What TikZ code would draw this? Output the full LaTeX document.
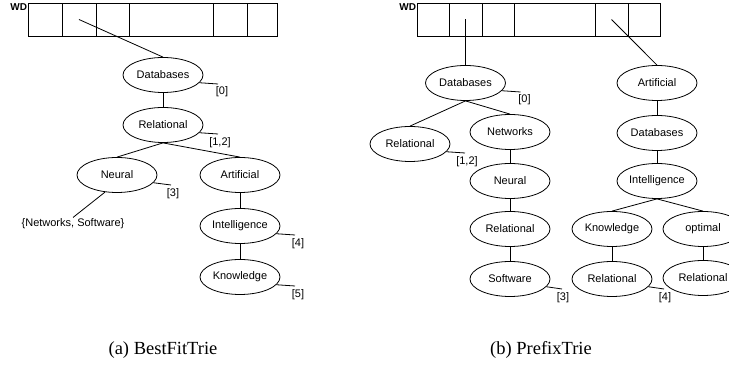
\documentclass[tikz,border=0pt]{standalone}
\usepackage{fontspec}
\setmainfont{Liberation Sans}
\newfontfamily\capfont{Liberation Serif}
\usetikzlibrary{shapes.geometric,calc}
\begin{document}
\begin{tikzpicture}[x=1pt,y=-1pt,
  word/.style={ellipse,draw,minimum width=80pt,minimum height=35pt,inner sep=0pt,font=\fontsize{11}{13}\selectfont},
  cell/.style={draw,rectangle,minimum height=33pt,inner sep=0pt,outer sep=0pt},
  lbl/.style={inner sep=1pt,anchor=north,font=\fontsize{11}{13}\selectfont},
  plain/.style={inner sep=1pt,font=\fontsize{11}{13}\selectfont},
  wd/.style={inner sep=0.5pt,anchor=north east,font=\bfseries\fontsize{10}{12}\selectfont},
  captext/.style={inner sep=0pt,font=\capfont\fontsize{18.5}{21}\selectfont},
  every path/.style={line width=0.8pt}]
\useasboundingbox (0,0) rectangle (729,371);

% ---------- left array ----------
\node[cell,minimum width=34pt] (a1) at (45,19.5) {};
\node[cell,minimum width=34pt] (a2) at (79,19.5) {};
\node[cell,minimum width=33pt] (a3) at (112.5,19.5) {};
\node[cell,minimum width=84pt] (a4) at (171,19.5) {};
\node[cell,minimum width=34pt] (a5) at (230,19.5) {};
\node[cell,minimum width=30pt] (a6) at (262,19.5) {};
\node[wd] (wda) at (a1.north west) {WD};

% ---------- left tree ----------
\node[word] (ldb) at (163,75) {Databases};
\node[word] (lrel) at (163,125) {Relational};
\node[word] (lneu) at (117,175) {Neural};
\node[word] (lart) at (240,175) {Artificial};
\node[word] (lint) at (240,226) {Intelligence};
\node[word] (lkno) at (240,277) {Knowledge};
\node[plain] (lset) at (73,224) {\{Networks, Software\}};

\draw (a2.center) -- (ldb.north);
\draw (ldb) -- (lrel);
\draw (lrel.south) -- (lneu.north);
\draw (lrel.south) -- (lart.north);
\draw (lart) -- (lint);
\draw (lint) -- (lkno);
\draw (lneu.-125) -- (lset.north);

% labels left
\coordinate (ldb-e) at ($(ldb.center)+(55,9)$);
\draw (ldb.-12) -- (ldb-e);
\node[lbl] (ldb-l) at ($(ldb-e)+(4,1)$) {[0]};
\coordinate (lrel-e) at ($(lrel.center)+(55,9)$);
\draw (lrel.-12) -- (lrel-e);
\node[lbl] (lrel-l) at ($(lrel-e)+(2,2)$) {[1,2]};
\coordinate (lneu-e) at ($(lneu.center)+(54,10)$);
\draw (lneu.-12) -- (lneu-e);
\node[lbl] (lneu-l) at ($(lneu-e)+(2,2)$) {[3]};
\coordinate (lint-e) at ($(lint.center)+(55,9)$);
\draw (lint.-12) -- (lint-e);
\node[lbl] (lint-l) at ($(lint-e)+(3,2)$) {[4]};
\coordinate (lkno-e) at ($(lkno.center)+(55,9)$);
\draw (lkno.-12) -- (lkno-e);
\node[lbl] (lkno-l) at ($(lkno-e)+(3,2)$) {[5]};

% ---------- right array ----------
\node[cell,minimum width=32pt] (b1) at (433,19.5) {};
\node[cell,minimum width=33pt] (b2) at (465.5,19.5) {};
\node[cell,minimum width=32pt] (b3) at (498,19.5) {};
\node[cell,minimum width=81pt] (b4) at (554.5,19.5) {};
\node[cell,minimum width=33pt] (b5) at (611.5,19.5) {};
\node[cell,minimum width=32pt] (b6) at (644,19.5) {};
\node[wd] (wdb) at (b1.north west) {WD};

% ---------- right tree (Databases) ----------
\node[word] (rdb) at (465.5,83) {Databases};
\node[word] (rrel) at (410,144) {Relational};
\node[word] (rnet) at (510,132) {Networks};
\node[word] (rneu) at (510,181) {Neural};
\node[word] (rrel2) at (510,229) {Relational};
\node[word] (rsoft) at (510,279) {Software};

\draw (b2.center) -- (rdb.north);
\draw (rdb.south) -- (rrel.north);
\draw (rdb.south) -- (rnet.north);
\draw (rnet) -- (rneu);
\draw (rneu) -- (rrel2);
\draw (rrel2) -- (rsoft);

% ---------- right tree (Artificial) ----------
\node[word] (rart) at (657,83) {Artificial};
\node[word] (rdb2) at (657,133) {Databases};
\node[word] (rint) at (657,181) {Intelligence};
\node[word] (rkno) at (612,229) {Knowledge};
\node[word] (ropt) at (703,229) {optimal};
\node[word] (rrel3) at (612,279) {Relational};
\node[word] (rrel4) at (703,278) {Relational};

\draw (b5.center) -- (rart.north);
\draw (rart) -- (rdb2);
\draw (rdb2) -- (rint);
\draw (rint.south) -- (rkno.north);
\draw (rint.south) -- (ropt.north);
\draw (rkno) -- (rrel3);
\draw (ropt) -- (rrel4);

% labels right
\coordinate (rdb-e) at ($(rdb.center)+(55,9)$);
\draw (rdb.-12) -- (rdb-e);
\node[lbl] (rdb-l) at ($(rdb-e)+(4,1)$) {[0]};
\coordinate (rrel-e) at ($(rrel.center)+(55,9)$);
\draw (rrel.-12) -- (rrel-e);
\node[lbl] (rrel-l) at ($(rrel-e)+(2,2)$) {[1,2]};
\coordinate (rsoft-e) at ($(rsoft.center)+(52,10)$);
\draw (rsoft.-12) -- (rsoft-e);
\node[lbl] (rsoft-l) at ($(rsoft-e)+(1,2)$) {[3]};
\coordinate (rrel3-e) at ($(rrel3.center)+(52,10)$);
\draw (rrel3.-12) -- (rrel3-e);
\node[lbl] (rrel3-l) at ($(rrel3-e)+(1,2)$) {[4]};

% ---------- captions ----------
\node[captext] (capa) at (163,350) {(a) BestFitTrie};
\node[captext] (capb) at (541,350) {(b) PrefixTrie};
\end{tikzpicture}
\end{document}
